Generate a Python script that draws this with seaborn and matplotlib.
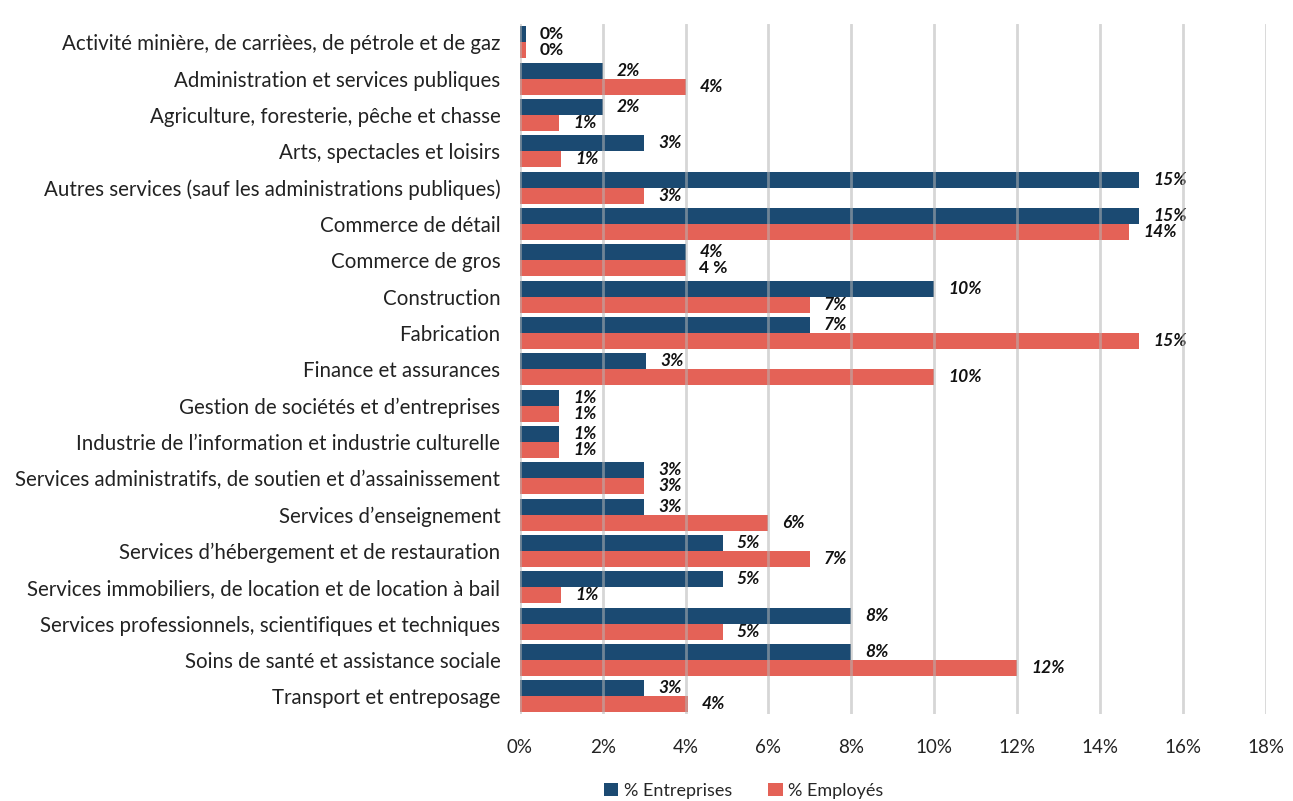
import numpy as np
import pandas as pd
import seaborn as sns
import matplotlib.pyplot as plt

secteurs = [
    "Activité minière, de carrièes, de pétrole et de gaz",
    "Administration et services publiques",
    "Agriculture, foresterie, pêche et chasse",
    "Arts, spectacles et loisirs",
    "Autres services (sauf les administrations publiques)",
    "Commerce de détail",
    "Commerce de gros",
    "Construction",
    "Fabrication",
    "Finance et assurances",
    "Gestion de sociétés et d’entreprises",
    "Industrie de l’information et industrie culturelle",
    "Services administratifs, de soutien et d’assainissement",
    "Services d’enseignement",
    "Services d’hébergement et de restauration",
    "Services immobiliers, de location et de location à bail",
    "Services professionnels, scientifiques et techniques",
    "Soins de santé et assistance sociale",
    "Transport et entreposage",
]
entreprises = [0.15, 2.0, 2.0, 3.0, 14.95, 14.95, 4.0, 10.0, 7.0, 3.05, 0.95, 0.95, 3.0, 3.0, 4.9, 4.9, 8.0, 8.0, 3.0]
employes = [0.15, 4.0, 0.95, 1.0, 3.0, 14.7, 4.0, 7.0, 14.95, 10.0, 0.95, 0.95, 3.0, 6.0, 7.0, 1.0, 4.9, 12.0, 4.05]
lab_entreprises = ["0%", "2%", "2%", "3%", "15%", "15%", "4%", "10%", "7%", "3%", "1%", "1%", "3%", "3%", "5%", "5%", "8%", "8%", "3%"]
lab_employes = ["0%", "4%", "1%", "1%", "3%", "14%", "4 %", "7%", "15%", "10%", "1%", "1%", "3%", "6%", "7%", "1%", "5%", "12%", "4%"]
series = ["% Entreprises", "% Employés"]

df = pd.DataFrame({
    "secteur": secteurs * 2,
    "valeur": entreprises + employes,
    "serie": [series[0]] * len(secteurs) + [series[1]] * len(secteurs),
})

sns.set_style("white")
plt.rcParams["font.family"] = ["Lato", "DejaVu Sans"]

fig, ax = plt.subplots(figsize=(12.93, 8.01), dpi=100)
sns.barplot(data=df, y="secteur", x="valeur", hue="serie", orient="h",
            palette=["#1B4A72", "#E46257"], width=0.88, ax=ax, saturation=1,
            linewidth=0)

ax.set_xlim(0, 18)
ax.set_xticks(np.arange(0, 19, 2))
ax.set_xticklabels([f"{v}%" for v in range(0, 19, 2)], fontsize=13.5, color="#222222")
ax.tick_params(axis="y", labelsize=14.8, labelcolor="#222222", length=0, pad=14)
ax.tick_params(axis="x", length=0, pad=18)
ax.set_xlabel("")
ax.set_ylabel("")
for s in ax.spines.values():
    s.set_visible(False)

for x in range(0, 19, 2):
    ax.axvline(x, color="#b5b5b5", alpha=0.55, lw=2, zorder=5)

for cont, labs in zip(ax.containers, [lab_entreprises, lab_employes]):
    texts = ax.bar_label(cont, labels=labs, padding=10, fontsize=12.5, fontweight="bold",
                         color="#111111")
    for t, l in zip(texts, labs):
        if l != "0%" and " " not in l:
            t.set_style("italic")

ax.legend(loc="upper center", bbox_to_anchor=(0.30, -0.075), ncol=2, frameon=False,
          fontsize=13, handlelength=0.8, handleheight=0.8, handletextpad=0.3,
          columnspacing=2.0)

plt.subplots_adjust(left=0.402, right=0.979, top=0.97, bottom=0.108)
plt.savefig("out.png", dpi=100)
